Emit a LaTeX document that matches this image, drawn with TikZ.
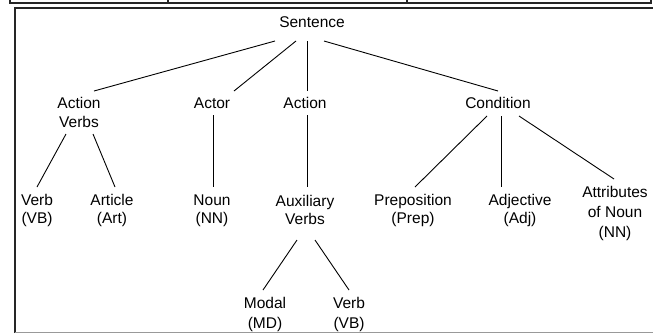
\documentclass[tikz,border=0pt]{standalone}
\usepackage{fontspec}
\setmainfont{Liberation Sans}
\usetikzlibrary{calc}
\begin{document}
\begin{tikzpicture}[x=1pt,y=-1pt,
  lbl/.style={font=\fontsize{15.5}{19}\selectfont, align=center, inner sep=0pt, text depth=0pt},
  tightlbl/.style={lbl, font=\fontsize{15.5}{18}\selectfont},
  widelbl/.style={lbl, font=\fontsize{15.5}{20}\selectfont},
  edge/.style={line width=0.9pt, black},
  frame/.style={line width=2pt, black!85}]
\useasboundingbox (0,0) rectangle (653,333);
% table remnant at top
\draw[frame] (10,3) -- (651,3);
\foreach \xx in {10,168,407,651} \draw[frame] (\xx,0) -- (\xx,4);
% box
\draw[frame] (14.5,333) -- (14.5,8) -- (653,8);
\draw[line width=1pt, black!40] (14.5,332.5) -- (653,332.5);
% nodes
\node[lbl] (s) at (312,22) {Sentence};
\node[lbl] (av) at (79,112.5) {Action\\Verbs};
\node[lbl] (actor) at (212,103) {Actor};
\node[lbl] (action) at (305,103) {Action};
\node[lbl] (cond) at (498,103) {Condition};
\node[tightlbl] (verb) at (37,209) {Verb\\(VB)};
\node[tightlbl] (art) at (112,209) {Article\\(Art)};
\node[tightlbl] (noun) at (212,209) {Noun\\(NN)};
\node[tightlbl] (aux) at (305,210) {Auxiliary\\Verbs};
\node[tightlbl] (prep) at (413,209) {Preposition\\(Prep)};
\node[tightlbl] (adj) at (520,209) {Adjective\\(Adj)};
\node[widelbl] (attr) at (615,212) {Attributes\\of Noun\\(NN)};
\node[widelbl] (modal) at (265,313) {Modal\\(MD)};
\node[widelbl] (verb2) at (349,313) {Verb\\(VB)};
% edges
\draw[edge] ($(s)+(-37,19)$) -- ($(av)+(15,-21.5)$);
\draw[edge] ($(s)+(-16,19)$) -- ($(actor)+(22,-12)$);
\draw[edge] ($(s)+(-5,19)$) -- ($(action)+(2,-12)$);
\draw[edge] ($(s)+(12,19)$) -- ($(cond)+(0,-12)$);
\draw[edge] ($(av)+(-13,21.5)$) -- ($(verb)+(0,-22)$);
\draw[edge] ($(av)+(14,21.5)$) -- ($(art)+(3,-22)$);
\draw[edge] ($(actor)+(1,12)$) -- ($(noun)+(1,-22)$);
\draw[edge] ($(action)+(2,12)$) -- ($(aux)+(2,-23)$);
\draw[edge] ($(cond)+(-11,13)$) -- ($(prep)+(2,-22)$);
\draw[edge] ($(cond)+(3,13)$) -- ($(adj)+(-19,-22)$);
\draw[edge] ($(cond)+(21,13)$) -- ($(attr)+(-1,-33)$);
\draw[edge] ($(aux)+(-8,30)$) -- ($(modal)+(-2,-23)$);
\draw[edge] ($(aux)+(10,30)$) -- ($(verb2)+(0,-23)$);
\end{tikzpicture}
\end{document}
